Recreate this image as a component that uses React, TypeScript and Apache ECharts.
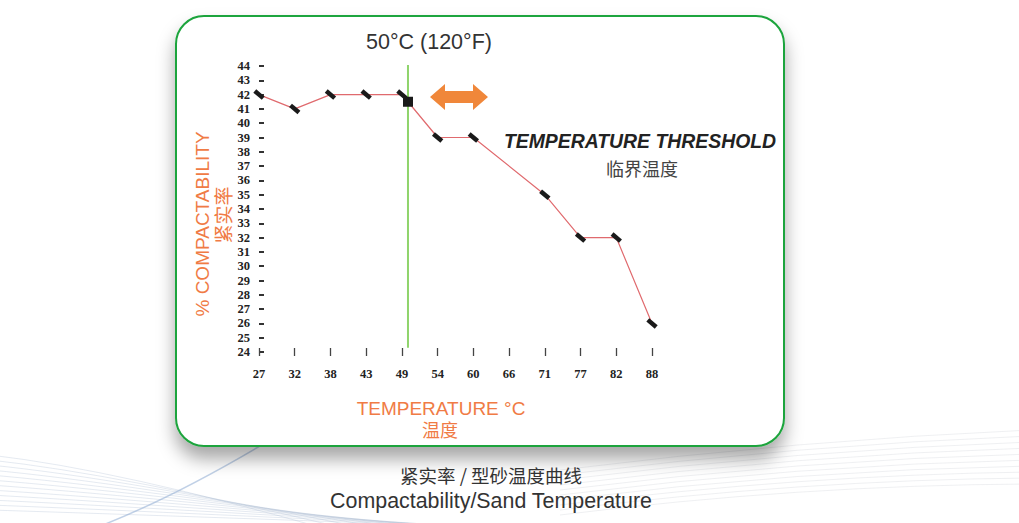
import React, { useEffect, useRef } from "react";
import * as echarts from "echarts";

// Tick labels of the temperature axis (°C), evenly spaced
const tempLabels = ["27", "32", "38", "43", "49", "54", "60", "66", "71", "77", "82", "88"];
// Measured points (temperature label -> % compactability)
const measuredTemps = ["27", "32", "38", "43", "49", "54", "60", "71", "77", "82", "88"];
const compactability = [42, 41, 42, 42, 42, 39, 39, 35, 32, 32, 26];
// Threshold point (50°C) sits just right of the 49 tick
const thresholdPos = 4.17;
const thresholdValue = 41.5;
const thresholdLineTop = 44.3;
const thresholdLineBottom = 24.3;
const yMin = 24;
const yMax = 44;

export default function App() {
  const ref = useRef<HTMLDivElement>(null);

  useEffect(() => {
    if (!ref.current) return;
    const chart = echarts.init(ref.current, null, { renderer: "svg" });

    const pts: any[] = [];
    measuredTemps.forEach((t, i) => {
      const idx = tempLabels.indexOf(t);
      pts.push({ value: [idx, compactability[i]] });
      if (t === "49") {
        pts.push({
          value: [thresholdPos, thresholdValue],
          symbol: "rect",
          symbolSize: 10,
          symbolRotate: 0,
        });
      }
    });

    const swoosh: any[] = [];
    for (let i = 0; i < 12; i++) {
      swoosh.push({
        type: "bezierCurve",
        silent: true,
        shape: {
          x1: -10,
          y1: 455 + i * 5,
          cpx1: 120,
          cpy1: 470 + i * 4,
          x2: 330 + i * 22,
          y2: 530,
        },
        style: { stroke: "rgba(160,180,205,0.28)", lineWidth: 1, fill: null },
        z: -5,
      });
    }
    for (let i = 0; i < 10; i++) {
      swoosh.push({
        type: "bezierCurve",
        silent: true,
        shape: {
          x1: 560,
          y1: 470 + i * 5,
          cpx1: 800,
          cpy1: 440 + i * 5,
          x2: 1030,
          y2: 430 + i * 6,
        },
        style: { stroke: "rgba(190,195,205,0.25)", lineWidth: 1, fill: null },
        z: -5,
      });
    }
    swoosh.push({
      type: "bezierCurve",
      silent: true,
      shape: { x1: 90, y1: 530, cpx1: 170, cpy1: 500, x2: 270, y2: 440 },
      style: { stroke: "rgba(140,170,210,0.55)", lineWidth: 1.5, fill: null },
      z: -5,
    });

    chart.setOption({
      animation: false,
      backgroundColor: "#ffffff",
      grid: { left: 259, right: 367, top: 66, bottom: 171, containLabel: false },
      xAxis: {
        type: "value",
        min: 0,
        max: tempLabels.length - 1,
        interval: 1,
        offset: -4,
        axisLine: { show: false },
        splitLine: { show: false },
        axisTick: { show: true, length: 8, lineStyle: { color: "#444", width: 1.3 } },
        axisLabel: {
          margin: 19,
          formatter: (v: number) => tempLabels[Math.round(v)] ?? "",
          fontFamily: "Liberation Serif",
          fontWeight: "bold",
          fontSize: 12.5,
          color: "#222",
        },
      },
      yAxis: {
        type: "value",
        min: yMin,
        max: yMax,
        interval: 1,
        offset: 3,
        axisLine: { show: false },
        splitLine: { show: false },
        axisTick: { show: true, inside: true, length: 5, lineStyle: { color: "#333", width: 2 } },
        axisLabel: {
          margin: 6,
          fontFamily: "Liberation Serif",
          fontWeight: "bold",
          fontSize: 12.5,
          color: "#222",
        },
      },
      series: [
        {
          type: "line",
          z: 1,
          silent: true,
          data: [
            [thresholdPos, thresholdLineTop],
            [thresholdPos, thresholdLineBottom],
          ],
          symbol: "none",
          lineStyle: { color: "#8fd46c", width: 2 },
        },
        {
          type: "line",
          z: 3,
          data: pts,
          lineStyle: { color: "#e06a6e", width: 1.2 },
          symbol: "rect",
          symbolSize: [11, 4.5],
          symbolRotate: -40,
          itemStyle: { color: "#1a1a1a" },
          showSymbol: true,
        },
      ],
      graphic: [
        ...swoosh,
        {
          type: "rect",
          z: -2,
          silent: true,
          shape: { x: 176, y: 16, width: 608, height: 430, r: 28 },
          style: {
            fill: "#ffffff",
            stroke: "#1ca43c",
            lineWidth: 2,
            shadowBlur: 18,
            shadowOffsetY: 12,
            shadowColor: "rgba(0,0,0,0.35)",
          },
        },
        {
          type: "text",
          x: 429,
          y: 42,
          z: 5,
          style: {
            text: "50°C (120°F)",
            fontFamily: "Liberation Sans",
            fontSize: 21.5,
            fill: "#333",
            align: "center",
            verticalAlign: "middle",
          },
        },
        {
          type: "polygon",
          z: 5,
          shape: {
            points: [
              [430, 97],
              [445, 84],
              [445, 91],
              [473, 91],
              [473, 84],
              [488, 97],
              [473, 110],
              [473, 103],
              [445, 103],
              [445, 110],
            ],
          },
          style: { fill: "#f0873a" },
        },
        {
          type: "text",
          x: 640,
          y: 141,
          z: 5,
          style: {
            text: "TEMPERATURE THRESHOLD",
            fontFamily: "Liberation Sans",
            fontWeight: "bold",
            fontStyle: "italic",
            fontSize: 19.4,
            fill: "#222",
            align: "center",
            verticalAlign: "middle",
          },
        },
        {
          type: "text",
          x: 642,
          y: 168,
          z: 5,
          style: {
            text: "临界温度",
            fontFamily: "Noto Sans CJK SC",
            fontSize: 18,
            fill: "#444",
            align: "center",
            verticalAlign: "middle",
          },
        },
        {
          type: "text",
          x: 202,
          y: 224,
          rotation: Math.PI / 2,
          z: 5,
          style: {
            text: "% COMPACTABILITY",
            fontFamily: "Liberation Sans",
            fontSize: 19,
            fill: "#f07b45",
            align: "center",
            verticalAlign: "middle",
          },
        },
        {
          type: "text",
          x: 222,
          y: 215,
          rotation: Math.PI / 2,
          z: 5,
          style: {
            text: "紧实率",
            fontFamily: "Noto Sans CJK SC",
            fontSize: 19,
            fill: "#f07b45",
            align: "center",
            verticalAlign: "middle",
          },
        },
        {
          type: "text",
          x: 441,
          y: 408,
          z: 5,
          style: {
            text: "TEMPERATURE °C",
            fontFamily: "Liberation Sans",
            fontSize: 19,
            fill: "#f07b45",
            align: "center",
            verticalAlign: "middle",
          },
        },
        {
          type: "text",
          x: 440,
          y: 429,
          z: 5,
          style: {
            text: "温度",
            fontFamily: "Noto Sans CJK SC",
            fontSize: 18,
            fill: "#f07b45",
            align: "center",
            verticalAlign: "middle",
          },
        },
        {
          type: "text",
          x: 491,
          y: 475,
          z: 5,
          style: {
            text: "紧实率 / 型砂温度曲线",
            fontFamily: "Noto Sans CJK SC",
            fontSize: 18.5,
            fill: "#333",
            align: "center",
            verticalAlign: "middle",
          },
        },
        {
          type: "text",
          x: 491,
          y: 501,
          z: 5,
          style: {
            text: "Compactability/Sand Temperature",
            fontFamily: "Liberation Sans",
            fontSize: 21.4,
            fill: "#333",
            align: "center",
            verticalAlign: "middle",
          },
        },
      ],
    });

    return () => chart.dispose();
  }, []);

  return (
    <div
      ref={ref}
      style={{ position: "fixed", left: 0, top: 0, width: 1019, height: 523 }}
    />
  );
}
